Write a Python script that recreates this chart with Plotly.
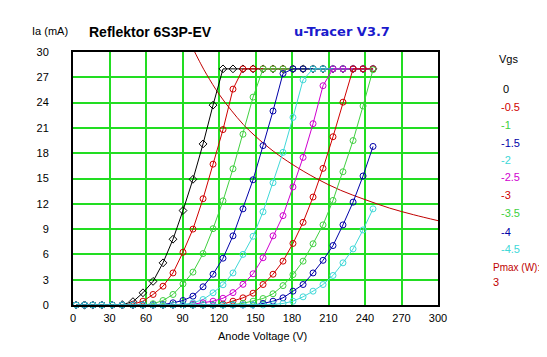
import plotly.graph_objects as go

# ---- data ----
anode_v = [2.5, 9.5, 16.4, 23.8, 32.1, 40.5, 49.3, 57.5, 65.8, 74.0, 82.2, 90.4, 98.6, 106.9,
           115.1, 123.3, 131.5, 139.7, 148.0, 156.2, 164.4, 172.6, 180.8, 189.1, 197.3, 205.5,
           213.7, 221.9, 230.2, 238.4, 246.6]

ia_0 = [0, 0, 0, 0, 0, 0.05, 0.4, 1.45, 2.8, 5.0, 7.8, 11.2, 14.9, 19.1, 23.7,
        28, 28, 28, 28, 28, 28, 28, 28, 28, 28, 28, 28, 28, 28, 28, 28]
ia_m05 = [0, 0, 0, 0, 0, 0, 0.1, 0.45, 1.25, 2.23, 3.8, 6.26, 9.0, 12.6, 16.7, 20.8, 25.6,
          28, 28, 28, 28, 28, 28, 28, 28, 28, 28, 28, 28, 28, 28]
ia_m1 = [0, 0, 0, 0, 0, 0, 0, 0, 0.15, 0.53, 1.25, 2.5, 3.9, 6.1, 9.05, 12.35, 16.15, 20.25,
         24.65, 28, 28, 28, 28, 28, 28, 28, 28, 28, 28, 28, 28]
ia_m15 = [0, 0, 0, 0, 0, 0, 0, 0, 0, 0.05, 0.26, 0.53, 1.05, 2.16, 3.65, 5.55, 8.2, 11.4,
          14.85, 18.9, 23.0, 27.45, 28, 28, 28, 28, 28, 28, 28, 28, 28]
ia_m2 = [0, 0, 0, 0, 0, 0, 0, 0, 0, 0, 0, 0.05, 0.25, 0.65, 1.45, 2.4, 3.8, 6.0, 8.15, 11.05,
         14.5, 18.1, 22.25, 26.7, 28, 28, 28, 28, 28, 28, 28]
ia_m25 = [0, 0, 0, 0, 0, 0, 0, 0, 0, 0, 0, 0, 0.1, 0.26, 0.45, 0.8, 1.47, 2.45, 3.7, 5.6, 8.2,
          10.6, 14.0, 17.5, 21.5, 26.0, 28, 28, 28, 28, 28]
ia_m3 = [0, 0, 0, 0, 0, 0, 0, 0, 0, 0, 0, 0, 0, 0, 0, 0.1, 0.45, 0.85, 1.4, 2.43, 3.65, 5.2,
         7.3, 9.8, 12.8, 16.2, 19.95, 24.05, 28, 28, 28]
ia_m35 = [0, 0, 0, 0, 0, 0, 0, 0, 0, 0, 0, 0, 0, 0, 0, 0, 0.05, 0.2, 0.45, 0.77, 1.33, 2.3,
          3.6, 5.2, 7.26, 9.5, 12.4, 15.8, 19.5, 23.6, 27.9]
ia_m4 = [0, 0, 0, 0, 0, 0, 0, 0, 0, 0, 0, 0, 0, 0, 0, 0, 0, 0, 0, 0.18, 0.45, 0.85, 1.64,
         2.43, 3.8, 5.3, 7.05, 9.5, 12.2, 15.3, 18.8]
ia_m45 = [0, 0, 0, 0, 0, 0, 0, 0, 0, 0, 0, 0, 0, 0, 0, 0, 0, 0, 0, 0, 0.05, 0.18, 0.45, 0.97,
          1.64, 2.43, 3.5, 5.0, 6.65, 8.9, 11.4]

vgs_labels = ["0", "-0.5", "-1", "-1.5", "-2", "-2.5", "-3", "-3.5", "-4", "-4.5"]
series = [ia_0, ia_m05, ia_m1, ia_m15, ia_m2, ia_m25, ia_m3, ia_m35, ia_m4, ia_m45]
colors = ["#000000", "#d00000", "#40d040", "#0000a8", "#40d8d8",
          "#d000d0", "#d00000", "#40d040", "#0000a8", "#40d8d8"]

pmax_v = [99, 105, 110, 120, 130, 140, 150, 165, 180, 200, 220, 240, 260, 280, 300]
pmax_ia = [30.3, 28.6, 27.3, 25.0, 23.1, 21.4, 20.0, 18.2, 16.7, 15.0, 13.6, 12.5, 11.5, 10.7, 10.0]

x_ticks = [0, 30, 60, 90, 120, 150, 180, 210, 240, 270, 300]
y_ticks = [0, 3, 6, 9, 12, 15, 18, 21, 24, 27, 30]

FONT = "Liberation Sans, Arial, sans-serif"

fig = go.Figure()
fig.add_trace(go.Scatter(x=pmax_v, y=pmax_ia, mode="lines",
                         line=dict(color="#c00000", width=1, shape="spline"),
                         hoverinfo="skip"))
for i, (lab, ia, col) in enumerate(zip(vgs_labels, series, colors)):
    fig.add_trace(go.Scatter(
        x=anode_v, y=ia, mode="lines+markers", name=lab,
        line=dict(color=col, width=1),
        marker=dict(symbol="diamond-open" if i == 0 else "circle-open",
                    size=6, color=col, line=dict(width=1, color=col)),
        cliponaxis=False))

# page body has an 8px margin: target-pixel coordinates are shifted by OFF
OFF = 8
W, H = 547 - OFF, 357 - 2 * OFF
L, R, T, B = 73 - OFF, 438 - OFF, 52 - OFF, 305.5 - OFF

def px(xp):
    return (xp - OFF - L) / (R - L)

def py(yp):
    return (B - (yp - OFF)) / (B - T)

ann = []
ann.append(dict(text="Ia (mA)", x=px(30), y=py(31), xanchor="left", yanchor="middle",
                font=dict(size=11, color="black")))
ann.append(dict(text="<b>Reflektor 6S3P-EV</b>", x=px(87), y=py(31.5), xanchor="left",
                yanchor="middle", font=dict(size=14, color="black")))
ann.append(dict(text="<b>u-Tracer V3.7</b>", x=px(292), y=py(31.5), xanchor="left",
                yanchor="middle", font=dict(size=13, color="#1a1acc",
                                            family="DejaVu Sans, Verdana, sans-serif")))
ann.append(dict(text="Anode Voltage (V)", x=px(262), y=py(337), xanchor="center",
                yanchor="middle", font=dict(size=11, color="black")))
ann.append(dict(text="Vgs", x=px(497), y=py(59), xanchor="left", yanchor="middle",
                font=dict(size=11, color="black")))
leg_y = [89.3, 106.7, 124.7, 142.7, 160.7, 177.7, 195.7, 213.3, 232, 249.3]
for lab, col, yy in zip(vgs_labels, colors, leg_y):
    ann.append(dict(text=lab, x=px(499.5 if lab != "0" else 500.5), y=py(yy), xanchor="left",
                    yanchor="middle", font=dict(size=11, color=col)))
ann.append(dict(text="Pmax (W):", x=px(491), y=py(267.7), xanchor="left", yanchor="middle",
                font=dict(size=10, color="#c00000")))
ann.append(dict(text="3", x=px(491), y=py(282), xanchor="left", yanchor="middle",
                font=dict(size=11, color="#c00000")))
for a in ann:
    a.update(xref="paper", yref="paper", showarrow=False)

fig.update_layout(
    width=W, height=H,
    margin=dict(l=L, r=W - R, t=T, b=H - B, pad=0, autoexpand=False),
    paper_bgcolor="white", plot_bgcolor="white",
    showlegend=False,
    font=dict(family=FONT, size=11, color="black"),
    annotations=ann,
    xaxis=dict(range=[0, 300], tickvals=x_ticks, ticktext=[str(v) for v in x_ticks],
               showgrid=True, gridcolor="#22dd22", gridwidth=2, zeroline=False,
               showline=True, linecolor="black", linewidth=2, mirror=True,
               ticks="outside", ticklen=2, tickcolor="white",
               tickfont=dict(size=11, color="black")),
    yaxis=dict(range=[0, 30], tickvals=y_ticks, ticktext=[str(v) for v in y_ticks],
               showgrid=True, gridcolor="#22dd22", gridwidth=2, zeroline=False,
               showline=True, linecolor="black", linewidth=2, mirror=True,
               ticks="outside", ticklen=20, tickcolor="white",
               tickfont=dict(size=11, color="black")),
)

fig.write_html("out.html")
